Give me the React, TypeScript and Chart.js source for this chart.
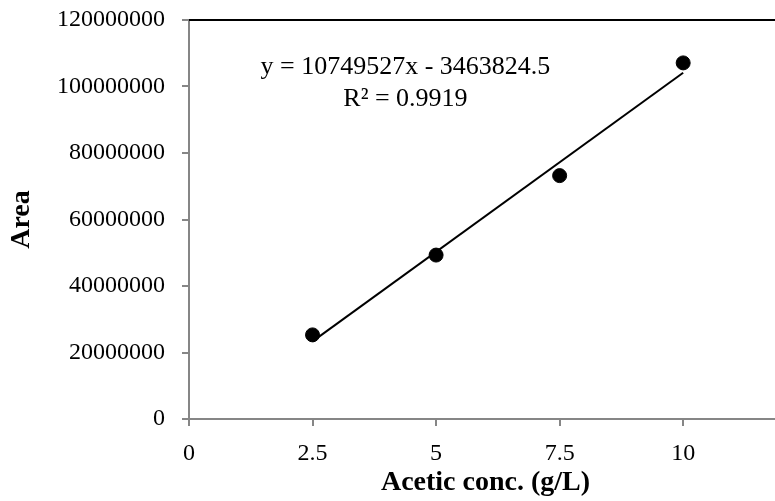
import React, { useEffect, useRef } from "react";
import { Chart, registerables } from "chart.js";

Chart.register(...registerables);

const concentrations = [2.5, 5, 7.5, 10];
const areas = [25300000, 49300000, 73200000, 107100000];
const equationLines = ["y = 10749527x - 3463824.5", "R² = 0.9919"];
const equationAnchorX = 4.38;
const equationAnchorY = [105700000, 96300000];
const xTitle = "Acetic conc. (g/L)";
const yTitle = "Area";

const FONT = "'Times New Roman', 'Liberation Serif', serif";
const AXIS_GRAY = "#868686";

function fitLine(xs: number[], ys: number[]) {
  const n = xs.length;
  const mx = xs.reduce((a, b) => a + b, 0) / n;
  const my = ys.reduce((a, b) => a + b, 0) / n;
  let sxy = 0;
  let sxx = 0;
  for (let i = 0; i < n; i++) {
    sxy += (xs[i] - mx) * (ys[i] - my);
    sxx += (xs[i] - mx) * (xs[i] - mx);
  }
  const slope = sxy / sxx;
  return { slope, intercept: my - slope * mx };
}

export default function App() {
  const ref = useRef<HTMLCanvasElement | null>(null);

  useEffect(() => {
    if (!ref.current) return;
    const { slope, intercept } = fitLine(concentrations, areas);
    const xMin = Math.min(...concentrations);
    const xMax = Math.max(...concentrations);
    const trend = [
      { x: xMin, y: slope * xMin + intercept },
      { x: xMax, y: slope * xMax + intercept },
    ];

    const extras = {
      id: "extras",
      afterDatasetsDraw(chart: any) {
        const { ctx, chartArea, scales } = chart;
        ctx.save();
        ctx.strokeStyle = "#000";
        ctx.lineWidth = 2;
        ctx.beginPath();
        ctx.moveTo(chartArea.left, chartArea.top);
        ctx.lineTo(chartArea.right, chartArea.top);
        ctx.stroke();
        ctx.fillStyle = "#000";
        ctx.font = `26px ${FONT}`;
        ctx.textAlign = "center";
        ctx.textBaseline = "middle";
        const px = scales.x.getPixelForValue(equationAnchorX);
        equationLines.forEach((t, i) => {
          ctx.fillText(t, px, scales.y.getPixelForValue(equationAnchorY[i]));
        });
        ctx.restore();
      },
    };

    const chart = new Chart(ref.current, {
      type: "scatter",
      data: {
        datasets: [
          {
            type: "line",
            data: trend,
            borderColor: "#000",
            borderWidth: 2,
            pointRadius: 0,
            fill: false,
          } as any,
          {
            data: concentrations.map((x, i) => ({ x, y: areas[i] })),
            backgroundColor: "#000",
            borderColor: "#000",
            borderWidth: 1,
            pointRadius: 7,
          },
        ],
      },
      options: {
        animation: false,
        responsive: false,
        devicePixelRatio: 1,
        layout: { padding: { left: 0, top: 20, right: 18, bottom: 0 } },
        plugins: { legend: { display: false }, tooltip: { enabled: false } },
        scales: {
          x: {
            type: "linear",
            min: 0,
            max: 12,
            afterFit: (s: any) => {
              s.height = 82;
            },
            ticks: {
              stepSize: 2.5,
              includeBounds: false,
              color: "#000",
              font: { family: FONT, size: 24 },
              padding: 13,
              callback: (v: any) => String(v),
            },
            grid: {
              drawOnChartArea: false,
              drawTicks: true,
              tickLength: 7,
              color: AXIS_GRAY,
              lineWidth: 2,
            },
            border: { display: true, color: AXIS_GRAY, width: 2 },
            title: {
              display: true,
              text: xTitle,
              color: "#000",
              font: { family: FONT, size: 28, weight: "bold" },
              padding: { top: 0, bottom: 1 },
            },
          },
          y: {
            type: "linear",
            min: 0,
            max: 120000000,
            afterFit: (s: any) => {
              s.width = 189;
              s.paddingTop = 0;
              s.paddingBottom = 0;
            },
            ticks: {
              stepSize: 20000000,
              color: "#000",
              font: { family: FONT, size: 24 },
              padding: 17,
              callback: (v: any) => String(v),
            },
            grid: {
              drawOnChartArea: false,
              drawTicks: true,
              tickLength: 7,
              color: AXIS_GRAY,
              lineWidth: 2,
            },
            border: { display: true, color: AXIS_GRAY, width: 2 },
            title: {
              display: true,
              text: yTitle,
              color: "#000",
              font: { family: FONT, size: 28, weight: "bold" },
              padding: { top: 5, bottom: 0 },
            },
          },
        },
      },
      plugins: [extras],
    });
    return () => chart.destroy();
  }, []);

  return (
    <div
      style={{
        position: "fixed",
        left: 0,
        top: 0,
        width: 775,
        height: 501,
        overflow: "hidden",
        background: "#fff",
      }}
    >
      <canvas ref={ref} width={800} height={501} />
    </div>
  );
}
